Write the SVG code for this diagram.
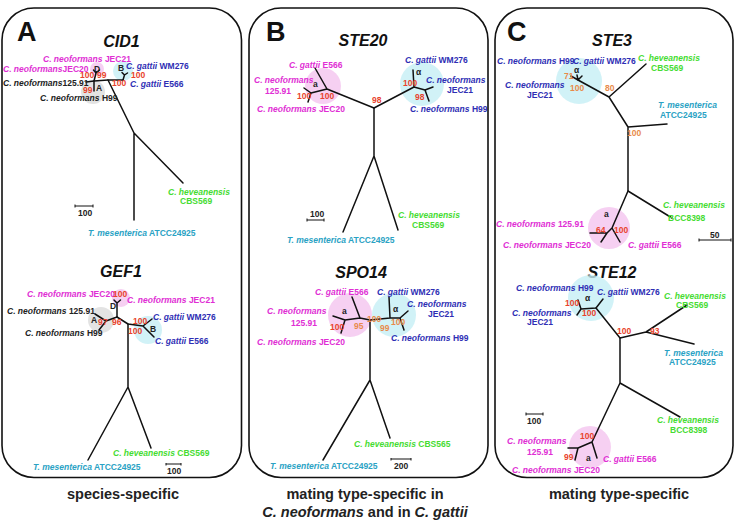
<svg xmlns="http://www.w3.org/2000/svg" width="736" height="521" viewBox="0 0 736 521">
<style>
.frame{fill:none;stroke:#111;stroke-width:1.6}
.br{fill:none;stroke:#111;stroke-width:1.5;stroke-linecap:round;stroke-linejoin:round}
.sc{fill:none;stroke:#111;stroke-width:1}
text{font-family:"Liberation Sans",Arial,Helvetica,sans-serif;font-weight:bold}
.l{font-size:8.5px}
.i{font-style:italic}
.m{fill:#e02ed4}
.b{fill:#2e2eb4}
.g{fill:#46dc32}
.t{fill:#2aa2c4}
.k{fill:#222}
.r{fill:#e8432c;font-size:8.5px}
.o{fill:#e88a4a;font-size:8.5px}
.ttl{font-size:16px;font-style:italic;fill:#111;text-anchor:middle}
.big{font-size:27px;fill:#111}
.cap{font-size:14.5px;fill:#222;text-anchor:middle}
.pk{fill:#f3c0ee;opacity:.75}
.cy{fill:#c6eff5;opacity:.8}
.gy{fill:#dcdcdc;opacity:.8}
</style>
<rect width="736" height="521" fill="#fff"/>

<!-- Panel A -->
<g id="panelA">
<rect class="frame" x="2" y="8" width="239.5" height="469.5" rx="32"/>
<text class="big" x="17" y="41">A</text>
<g id="cid1">
<text class="ttl" x="121.5" y="47">CID1</text>
<circle class="gy" cx="93" cy="92" r="12"/>
<circle class="cy" cx="123" cy="71" r="10"/>
<circle class="pk" cx="97" cy="69" r="7"/>
<g class="br">
<path d="M86 82 L94 81 L108 80 L123 80"/>
<path d="M94 81 L96 73 M96 73 L93.5 70 M96 73 L99.5 70"/>
<path d="M94 81 L94 91"/>
<path d="M123 80 L124.5 75 M124.5 75 L122 72.5 M124.5 75 L127.5 73"/>
<path d="M108 80 L134 133 L134 220 M134 133 L183 183"/>
</g>
<text class="l m" x="43" y="62"><tspan class="i">C. neoformans</tspan> JEC21</text>
<text class="l m" x="3" y="72"><tspan class="i">C. neoformans</tspan>JEC20</text>
<text class="l k" x="94" y="71.5">D</text>
<text class="l b" x="126" y="69"><tspan class="i">C. gattii</tspan> WM276</text>
<text class="l k" x="118" y="71">B</text>
<text class="r" x="80" y="78">100</text>
<text class="r" x="97" y="78">99</text>
<text class="r" x="131" y="78">100</text>
<text class="l k" x="3" y="86"><tspan class="i">C. neoformans</tspan>125.91</text>
<text class="r" x="112" y="86">100</text>
<text class="l b" x="130" y="86.5"><tspan class="i">C. gattii</tspan> E566</text>
<text class="r" x="83" y="92.5">99</text>
<text class="l k" x="96" y="91">A</text>
<text class="l k" x="40" y="100.5"><tspan class="i">C. neoformans</tspan> H99</text>
<text class="l g" x="168" y="195"><tspan class="i">C. heveanensis</tspan></text>
<text class="l g" x="180" y="204">CBS569</text>
<path class="sc" d="M75 206 L93 206 M75 204.5 L75 207.5 M93 204.5 L93 207.5"/>
<text class="l k" x="78" y="216">100</text>
<text class="l t" x="88" y="236"><tspan class="i">T. mesenterica</tspan> ATCC24925</text>
</g>
<g id="gef1">
<text class="ttl" x="121" y="277">GEF1</text>
<circle class="gy" cx="101" cy="320" r="13"/>
<circle class="pk" cx="121" cy="298" r="9"/>
<circle class="cy" cx="148" cy="330" r="14"/>
<g class="br">
<path d="M117 303 L117 317 M117 303 L114 300 M117 303 L120.5 300"/>
<path d="M95 314 L106 321 L99 330 M106 321 L117 317"/>
<path d="M117 317 L128 324 L143 326 L152 319 M143 326 L154 337"/>
<path d="M128 324 L128 387 L88 460 M128 387 L151 448"/>
</g>
<text class="l m" x="27" y="297"><tspan class="i">C. neoformans</tspan> JEC20</text>
<text class="r" x="113" y="297">100</text>
<text class="l m" x="127" y="303"><tspan class="i">C. neoformans</tspan> JEC21</text>
<text class="l k" x="110" y="308.5">D</text>
<text class="l k" x="7" y="314"><tspan class="i">C. neoformans</tspan> 125.91</text>
<text class="l b" x="153" y="320"><tspan class="i">C. gattii</tspan> WM276</text>
<text class="l k" x="91" y="322.5">A</text>
<text class="r" x="98" y="325">97</text>
<text class="r" x="112" y="325">96</text>
<text class="r" x="133" y="324">100</text>
<text class="r" x="128" y="334">100</text>
<text class="l k" x="150" y="332">B</text>
<text class="l k" x="25" y="335.5"><tspan class="i">C. neoformans</tspan> H99</text>
<text class="l b" x="155" y="344"><tspan class="i">C. gattii</tspan> E566</text>
<text class="l g" x="113" y="456"><tspan class="i">C. heveanensis</tspan> CBS569</text>
<text class="l t" x="33" y="470"><tspan class="i">T. mesenterica</tspan> ATCC24925</text>
<path class="sc" d="M166 464 L181 464 M166 463 L166 465.5 M181 463 L181 465.5"/>
<text class="l k" x="167" y="474">100</text>
</g>
</g>

<!-- Panel B -->
<g id="panelB">
<rect class="frame" x="249" y="8" width="239" height="469.5" rx="32"/>
<text class="big" x="266" y="41">B</text>
<g id="ste20">
<text class="ttl" x="363" y="46">STE20</text>
<circle class="pk" cx="323" cy="86" r="18"/>
<circle class="cy" cx="422" cy="84" r="22"/>
<g class="br">
<path d="M374 108 L327 89 L315 68 M327 89 L311 93 L304 88 M311 93 L308 102"/>
<path d="M374 108 L414 87 L413 70 M414 87 L425 90 L433 87 M425 90 L429 101"/>
<path d="M374 108 L374 156 L343 232 M374 156 L398 230"/>
</g>
<text class="l m" x="289" y="68"><tspan class="i">C. gattii</tspan> E566</text>
<text class="l m i" x="254" y="83">C. neoformans</text>
<text class="l m" x="265" y="94">125.91</text>
<text class="l k" x="313" y="87">a</text>
<text class="r" x="297" y="99">100</text>
<text class="r" x="320" y="99">100</text>
<text class="l m" x="257" y="112"><tspan class="i">C. neoformans</tspan> JEC20</text>
<text class="r" x="372" y="103">98</text>
<text class="l b" x="405" y="63"><tspan class="i">C. gattii</tspan> WM276</text>
<text class="l k" x="416" y="75">α</text>
<text class="r" x="403" y="86">100</text>
<text class="l b i" x="426" y="83">C. neoformans</text>
<text class="l b" x="447" y="93">JEC21</text>
<text class="r" x="415" y="100">98</text>
<text class="l b" x="410" y="112"><tspan class="i">C. neoformans</tspan> H99</text>
<text class="l g i" x="398" y="218">C. heveanensis</text>
<text class="l g" x="412" y="228">CBS569</text>
<text class="l k" x="310" y="217">100</text>
<path class="sc" d="M307 220 L324 220 M307 218.5 L307 221.5 M324 218.5 L324 221.5"/>
<text class="l t" x="287" y="243"><tspan class="i">T. mesenterica</tspan> ATCC24925</text>
</g>
<g id="spo14">
<text class="ttl" x="361" y="278">SPO14</text>
<circle class="pk" cx="350" cy="315" r="22"/>
<circle class="cy" cx="394" cy="315" r="22"/>
<g class="br">
<path d="M370 320 L360 318 L352 297 M360 318 L345 320 L333 316 M345 320 L341 333"/>
<path d="M370 320 L390 318 L389 297 M390 318 L400 318 L408 311 M400 318 L404 330"/>
<path d="M370 320 L370 380 L323 460 M370 380 L390 438"/>
</g>
<text class="l m" x="315" y="295"><tspan class="i">C. gattii</tspan> E566</text>
<text class="l b" x="377" y="295"><tspan class="i">C. gattii</tspan> WM276</text>
<text class="l m i" x="267" y="314">C. neoformans</text>
<text class="l m" x="291" y="326">125.91</text>
<text class="l k" x="342" y="314">a</text>
<text class="l b i" x="407" y="307">C. neoformans</text>
<text class="l b" x="428" y="317">JEC21</text>
<text class="l k" x="393" y="312">α</text>
<text class="r" x="330" y="330">100</text>
<text class="o" x="354" y="329">95</text>
<text class="o" x="367" y="322">100</text>
<text class="o" x="380" y="331">99</text>
<text class="o" x="391" y="325">100</text>
<text class="l m" x="257" y="345"><tspan class="i">C. neoformans</tspan> JEC20</text>
<text class="l b" x="391" y="341"><tspan class="i">C. neoformans</tspan> H99</text>
<text class="l g" x="354" y="447"><tspan class="i">C. heveanensis</tspan> CBS565</text>
<text class="l t" x="270" y="469"><tspan class="i">T. mesenterica</tspan> ATCC24925</text>
<path class="sc" d="M391 459 L411 459 M391 458 L391 460.5 M411 458 L411 460.5"/>
<text class="l k" x="394" y="469">200</text>
</g>
</g>

<!-- Panel C -->
<g id="panelC">
<rect class="frame" x="495" y="8" width="238" height="469.5" rx="32"/>
<text class="big" x="507" y="41">C</text>
<g id="ste3">
<text class="ttl" x="612" y="46">STE3</text>
<circle class="cy" cx="579" cy="81" r="23"/>
<circle class="pk" cx="609" cy="228" r="21"/>
<g class="br">
<path d="M578 80 L571 76 M578 80 L577 75 M578 80 L582 76"/>
<path d="M578 80 L609 97 L646 64 M609 97 L628 127 L667 124 M628 127 L628 191 L672 218"/>
<path d="M628 191 L612 228 L607 233 L590 233 M607 233 L601 242 M612 228 L620 242"/>
</g>
<text class="l b" x="497" y="64"><tspan class="i">C. neoformans</tspan> H99</text>
<text class="l b" x="573" y="64"><tspan class="i">C. gattii</tspan> WM276</text>
<text class="l g i" x="638" y="61">C. heveanensis</text>
<text class="l g" x="651" y="71">CBS569</text>
<text class="l k" x="574" y="73">α</text>
<text class="o" x="564" y="79">71</text>
<text class="l b i" x="505" y="88">C. neoformans</text>
<text class="l b" x="527" y="98">JEC21</text>
<text class="o" x="570" y="91">100</text>
<text class="o" x="605" y="91">80</text>
<text class="l t i" x="658" y="108">T. mesenterica</text>
<text class="l t" x="660" y="118">ATCC24925</text>
<text class="o" x="627" y="136">100</text>
<text class="l k" x="604" y="217">a</text>
<text class="r" x="596" y="233">64</text>
<text class="r" x="614" y="233">100</text>
<text class="l m" x="496" y="227"><tspan class="i">C. neoformans</tspan> 125.91</text>
<text class="l m" x="503" y="248"><tspan class="i">C. neoformans</tspan> JEC20</text>
<text class="l m" x="628" y="248"><tspan class="i">C. gattii</tspan> E566</text>
<text class="l g i" x="663" y="208">C. heveanensis</text>
<text class="l g" x="668" y="221">BCC8398</text>
<text class="l k" x="710" y="238">50</text>
<path class="sc" d="M699 240 L731 240 M699 238.5 L699 241.5 M731 238.5 L731 241.5"/>
</g>
<g id="ste12">
<text class="ttl" x="612" y="278">STE12</text>
<circle class="cy" cx="591" cy="298" r="23"/>
<circle class="pk" cx="590" cy="447" r="21"/>
<g class="br">
<path d="M596 308 L603 299 M596 308 L581 309 L578 300 M581 309 L577 315"/>
<path d="M596 308 L620 338 L646 332 L687 305 M646 332 L694 344"/>
<path d="M620 338 L620 383 L680 417 M620 383 L592 442 L597 458 M592 442 L578 448 L568 448 M578 448 L575 460"/>
</g>
<text class="l b" x="516" y="291"><tspan class="i">C. neoformans</tspan>  H99</text>
<text class="l b" x="597" y="295"><tspan class="i">C. gattii</tspan> WM276</text>
<text class="l k" x="585" y="301">α</text>
<text class="r" x="565" y="306">100</text>
<text class="r" x="582" y="316">100</text>
<text class="l b i" x="512" y="316">C. neoformans</text>
<text class="l b" x="527" y="325">JEC21</text>
<text class="l g i" x="664" y="299">C. heveanensis</text>
<text class="l g" x="676" y="308">CBS569</text>
<text class="r" x="617" y="334">100</text>
<text class="r" x="650" y="334">93</text>
<text class="l t i" x="664" y="356">T. mesenterica</text>
<text class="l t" x="669" y="365">ATCC24925</text>
<text class="l g i" x="657" y="423">C. heveanensis</text>
<text class="l g" x="670" y="433">BCC8398</text>
<path class="sc" d="M526 414 L543 414 M526 412.5 L526 415.5 M543 412.5 L543 415.5"/>
<text class="l k" x="527" y="424">100</text>
<text class="l m i" x="507" y="444">C. neoformans</text>
<text class="l m" x="527" y="455">125.91</text>
<text class="r" x="580" y="439">100</text>
<text class="r" x="564" y="460">99</text>
<text class="l k" x="586" y="461">a</text>
<text class="l m" x="603" y="462"><tspan class="i">C. gattii</tspan> E566</text>
<text class="l m" x="512" y="473"><tspan class="i">C. neoformans</tspan> JEC20</text>
</g>
</g>

<!-- Captions -->
<g id="captions">
<text class="cap" x="123" y="499">species-specific</text>
<text class="cap" x="365" y="499">mating type-specific in</text>
<text class="cap" x="365" y="517"><tspan font-style="italic">C. neoformans</tspan> and in <tspan font-style="italic">C. gattii</tspan></text>
<text class="cap" x="619" y="499">mating type-specific</text>
</g>
</svg>
